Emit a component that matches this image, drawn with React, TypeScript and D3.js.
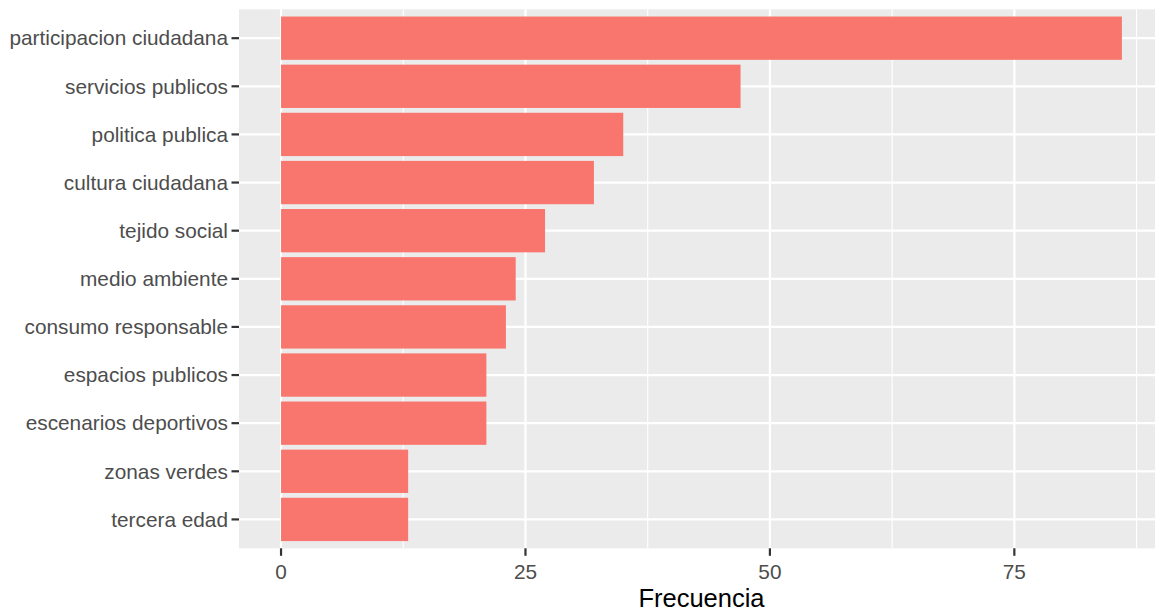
import React, { useEffect, useRef } from 'react';
import * as d3 from 'd3';

const categories = [
  'participacion ciudadana',
  'servicios publicos',
  'politica publica',
  'cultura ciudadana',
  'tejido social',
  'medio ambiente',
  'consumo responsable',
  'espacios publicos',
  'escenarios deportivos',
  'zonas verdes',
  'tercera edad',
];
const frecuencia = [86, 47, 35, 32, 27, 24, 23, 21, 21, 13, 13];
const majorTicks = [0, 25, 50, 75];
const minorTicks = [12.5, 37.5, 62.5, 87.5];

const W = 1155;
const H = 613;
const FONT = '"Liberation Sans", Arial, sans-serif';

export default function App() {
  const svgRef = useRef<SVGSVGElement>(null);

  useEffect(() => {
    if (!svgRef.current) return;
    const svg = d3.select(svgRef.current);
    svg.selectAll('*').remove();

    const panel = { left: 239, top: 9.3, bottom: 548.3 };
    const maxV = d3.max(frecuencia) ?? 1;
    const pad = maxV * 0.05;
    // 0 sits at x=281 and 75 at x=1014, so the right edge runs past the picture
    const pxPerUnit = (1014.3 - 281) / 75;
    const panelRight = panel.left + (maxV + 2 * pad) * pxPerUnit;

    const x = d3.scaleLinear()
      .domain([-pad, maxV + pad])
      .range([panel.left, panelRight]);

    const n = categories.length;
    const y = d3.scaleLinear()
      .domain([0.4, n + 0.6])
      .range([panel.top, panel.bottom]);
    const yPos = (i: number) => y(i + 1);

    // panel background
    svg.append('rect')
      .attr('x', panel.left)
      .attr('y', panel.top)
      .attr('width', panelRight - panel.left)
      .attr('height', panel.bottom - panel.top)
      .attr('fill', '#EBEBEB');

    // minor grid
    svg.append('g')
      .selectAll('line')
      .data(minorTicks)
      .join('line')
      .attr('x1', (d) => x(d))
      .attr('x2', (d) => x(d))
      .attr('y1', panel.top)
      .attr('y2', panel.bottom)
      .attr('stroke', '#fff')
      .attr('stroke-width', 1.1);

    // major grid
    svg.append('g')
      .selectAll('line')
      .data(majorTicks)
      .join('line')
      .attr('x1', (d) => x(d))
      .attr('x2', (d) => x(d))
      .attr('y1', panel.top)
      .attr('y2', panel.bottom)
      .attr('stroke', '#fff')
      .attr('stroke-width', 2.2);

    svg.append('g')
      .selectAll('line')
      .data(categories)
      .join('line')
      .attr('x1', panel.left)
      .attr('x2', panelRight)
      .attr('y1', (_, i) => yPos(i))
      .attr('y2', (_, i) => yPos(i))
      .attr('stroke', '#fff')
      .attr('stroke-width', 2.2);

    // bars
    const bandPx = y(1) - y(0);
    const barH = bandPx * 0.9;
    svg.append('g')
      .selectAll('rect')
      .data(frecuencia)
      .join('rect')
      .attr('x', x(0))
      .attr('y', (_, i) => yPos(i) - barH / 2)
      .attr('width', (d) => x(d) - x(0))
      .attr('height', barH)
      .attr('fill', '#F8766D');

    // y axis ticks + labels
    const yAxis = svg.append('g');
    yAxis.selectAll('line')
      .data(categories)
      .join('line')
      .attr('x1', panel.left - 7.5)
      .attr('x2', panel.left)
      .attr('y1', (_, i) => yPos(i))
      .attr('y2', (_, i) => yPos(i))
      .attr('stroke', '#333333')
      .attr('stroke-width', 2.2);
    yAxis.selectAll('text')
      .data(categories)
      .join('text')
      .attr('x', panel.left - 11)
      .attr('y', (_, i) => yPos(i))
      .attr('dy', '0.35em')
      .attr('text-anchor', 'end')
      .attr('font-family', FONT)
      .attr('font-size', 20.8)
      .attr('fill', '#4D4D4D')
      .text((d) => d);

    // x axis ticks + labels
    const xAxis = svg.append('g');
    xAxis.selectAll('line')
      .data(majorTicks)
      .join('line')
      .attr('x1', (d) => x(d))
      .attr('x2', (d) => x(d))
      .attr('y1', panel.bottom)
      .attr('y2', panel.bottom + 7.5)
      .attr('stroke', '#333333')
      .attr('stroke-width', 2.2);
    xAxis.selectAll('text')
      .data(majorTicks)
      .join('text')
      .attr('x', (d) => x(d))
      .attr('y', panel.bottom + 31)
      .attr('text-anchor', 'middle')
      .attr('font-family', FONT)
      .attr('font-size', 20.8)
      .attr('fill', '#4D4D4D')
      .text((d) => d3.format('d')(d));

    // axis title
    svg.append('text')
      .attr('x', (panel.left + panelRight) / 2)
      .attr('y', 607)
      .attr('text-anchor', 'middle')
      .attr('font-family', FONT)
      .attr('font-size', 25.5)
      .attr('fill', '#000')
      .text('Frecuencia');
  }, []);

  return (
    <svg
      ref={svgRef}
      width={W}
      height={H}
      style={{ position: 'absolute', left: 0, top: 0, background: '#fff', display: 'block' }}
    />
  );
}
